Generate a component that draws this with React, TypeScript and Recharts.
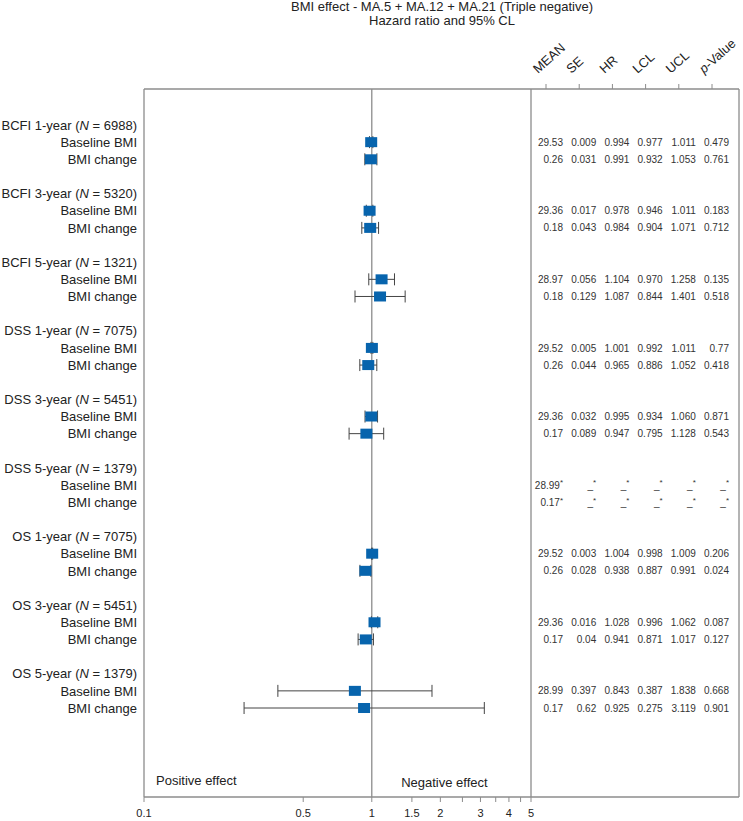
import React from 'react';
import {
  ScatterChart,
  Scatter,
  XAxis,
  YAxis,
  ErrorBar,
  ReferenceLine,
  ReferenceArea,
} from 'recharts';

const groups = ['BCFI 1-year', 'BCFI 3-year', 'BCFI 5-year', 'DSS 1-year', 'DSS 3-year', 'DSS 5-year', 'OS 1-year', 'OS 3-year', 'OS 5-year'];
const groupN = [6988, 5320, 1321, 7075, 5451, 1379, 7075, 5451, 1379];
const rowNames = ['Baseline BMI', 'BMI change'];

// one entry per row, two rows per group (baseline, change)
const meanVals = ['29.53', '0.26', '29.36', '0.18', '28.97', '0.18', '29.52', '0.26', '29.36', '0.17', '28.99*', '0.17*', '29.52', '0.26', '29.36', '0.17', '28.99', '0.17'];
const seVals = ['0.009', '0.031', '0.017', '0.043', '0.056', '0.129', '0.005', '0.044', '0.032', '0.089', '_*', '_*', '0.003', '0.028', '0.016', '0.04', '0.397', '0.62'];
const hrVals = [0.994, 0.991, 0.978, 0.984, 1.104, 1.087, 1.001, 0.965, 0.995, 0.947, null, null, 1.004, 0.938, 1.028, 0.941, 0.843, 0.925];
const lclVals = [0.977, 0.932, 0.946, 0.904, 0.97, 0.844, 0.992, 0.886, 0.934, 0.795, null, null, 0.998, 0.887, 0.996, 0.871, 0.387, 0.275];
const uclVals = [1.011, 1.053, 1.011, 1.071, 1.258, 1.401, 1.011, 1.052, 1.06, 1.128, null, null, 1.009, 0.991, 1.062, 1.017, 1.838, 3.119];
const pVals = ['0.479', '0.761', '0.183', '0.712', '0.135', '0.518', '0.77', '0.418', '0.871', '0.543', '_*', '_*', '0.206', '0.024', '0.087', '0.127', '0.668', '0.901'];

const columns = ['MEAN', 'SE', 'HR', 'LCL', 'UCL', 'p-Value'];
const xTicks = [0.1, 0.5, 1, 1.5, 2, 2.5, 3, 3.5, 4, 4.5, 5];
const xTickLabels = ['0.1', '0.5', '1', '1.5', '2', '', '3', '', '4', '', '5'];

const FONT = '"Liberation Sans", Arial, Helvetica, sans-serif';
const BOX = '#8c8c8c';
const TEXT = '#222';
const Y_DOMAIN: [number, number] = [-2.1, 39.19];

// row index on the y axis: 4 slots per group (header, baseline, change, gap)
const rowIndex = (i: number) => Math.floor(i / 2) * 4 + 1 + (i % 2);

const points = hrVals
  .map((hr, i) => ({
    x: hr,
    y: rowIndex(i),
    err: hr == null ? [0, 0] : [hr - (lclVals[i] as number), (uclVals[i] as number) - hr],
  }))
  .filter((d) => d.x != null);

const fmt = (v: number | null) => (v == null ? '_*' : v.toFixed(3));
const tableCols = [meanVals, seVals, hrVals.map(fmt), lclVals.map(fmt), uclVals.map(fmt), pVals];
const cells = tableCols.flatMap((col, c) => col.map((txt, i) => ({ x: c + 1, y: rowIndex(i), txt })));

const yLabels: Record<number, { group?: number; name?: string }> = {};
groups.forEach((_, g) => {
  yLabels[g * 4] = { group: g };
  yLabels[g * 4 + 1] = { name: rowNames[0] };
  yLabels[g * 4 + 2] = { name: rowNames[1] };
});
const yTicks = Object.keys(yLabels).map(Number);

const YTick = (props: any) => {
  const { x, y, payload } = props;
  const lab = yLabels[payload.value];
  if (!lab) return null;
  return (
    <text x={x} y={y} dy="0.36em" textAnchor="end" fontSize={13} fontFamily={FONT} fill={TEXT}>
      {lab.group != null ? (
        <>
          {groups[lab.group]} (<tspan fontStyle="italic">N</tspan> = {groupN[lab.group]})
        </>
      ) : (
        lab.name
      )}
    </text>
  );
};

const XTick = (props: any) => {
  const { x, y, payload, index } = props;
  return (
    <text x={x} y={y + 13} textAnchor="middle" fontSize={11} fontFamily={FONT} fill={TEXT}>
      {xTickLabels[index] ?? payload.value}
    </text>
  );
};

const HeaderTick = (props: any) => {
  const { x, y, payload } = props;
  const name = columns[payload.value - 1];
  return (
    <text
      transform={`translate(${x - 8},${y - 8}) rotate(-42)`}
      fontSize={13}
      fontFamily={FONT}
      fill={TEXT}
    >
      {name === 'p-Value' ? (
        <>
          <tspan fontStyle="italic">p</tspan>-Value
        </>
      ) : (
        name
      )}
    </text>
  );
};

const Square = (props: any) => {
  const { cx, cy } = props;
  return <rect x={cx - 6} y={cy - 5} width={12} height={10} fill="#0764ad" />;
};

const Cell = (props: any) => {
  const { cx, cy, payload } = props;
  const txt: string = payload.txt;
  const star = txt.endsWith('*');
  const base = star ? txt.slice(0, -1) : txt;
  return (
    <text x={cx + 17} y={cy} dy="0.36em" textAnchor="end" fontSize={10} fontFamily={FONT} fill="#333">
      {base}
      {star && (
        <tspan fontSize={8} dy="-0.4em">
          *
        </tspan>
      )}
    </text>
  );
};

const W = 743;
const H = 821;

export default function App() {
  return (
    <div style={{ position: 'absolute', left: 0, top: 0, width: W, height: H }}>
      <div
        style={{
          position: 'absolute',
          left: 242,
          top: 0,
          width: 400,
          textAlign: 'center',
          fontFamily: FONT,
          fontSize: 13,
          lineHeight: '14px',
          color: TEXT,
        }}
      >
        BMI effect - MA.5 + MA.12 + MA.21 (Triple negative)
        <br />
        Hazard ratio and 95% CL
      </div>

      <div style={{ position: 'absolute', left: 0, top: 0 }}>
        <ScatterChart width={W} height={H} margin={{ top: 89, right: 212, bottom: 0, left: 0 }}>
          <XAxis
            type="number"
            dataKey="x"
            scale="log"
            domain={[0.1, 5]}
            allowDataOverflow
            ticks={xTicks}
            interval={0}
            height={24}
            tickSize={5}
            tickMargin={2}
            axisLine={{ stroke: BOX, strokeWidth: 1.3 }}
            tickLine={{ stroke: BOX }}
            tick={<XTick />}
          />
          <YAxis
            type="number"
            dataKey="y"
            domain={Y_DOMAIN}
            allowDataOverflow
            reversed
            ticks={yTicks}
            interval={0}
            width={144}
            tickSize={0}
            tickMargin={7}
            tickLine={false}
            axisLine={{ stroke: BOX, strokeWidth: 1.3 }}
            tick={<YTick />}
          />
          <ReferenceLine y={Y_DOMAIN[0]} stroke={BOX} strokeWidth={1.3} />
          <ReferenceLine x={5} stroke={BOX} strokeWidth={1.3} />
          <ReferenceLine x={1} stroke={BOX} strokeWidth={1.3} />
          <ReferenceArea
            x1={0.1}
            x2={1}
            fillOpacity={0}
            label={{ value: 'Positive effect', position: 'insideBottomLeft', offset: 12, fontSize: 13, fontFamily: FONT, fill: TEXT }}
          />
          <ReferenceArea
            x1={1}
            x2={5}
            fillOpacity={0}
            label={{ value: 'Negative effect', position: 'insideBottom', offset: 10, dx: -7, fontSize: 13, fontFamily: FONT, fill: TEXT }}
          />
          <Scatter data={points} shape={<Square />} isAnimationActive={false}>
            <ErrorBar dataKey="err" direction="x" width={6} stroke="#444" strokeWidth={1} isAnimationActive={false} />
          </Scatter>
        </ScatterChart>
      </div>

      <div style={{ position: 'absolute', left: 0, top: 0 }}>
        <ScatterChart width={W} height={H} margin={{ top: 0, right: 4, bottom: 24, left: 531 }}>
          <XAxis
            type="number"
            dataKey="x"
            orientation="top"
            domain={[0.548, 6.813]}
            allowDataOverflow
            ticks={[1, 2, 3, 4, 5, 6]}
            interval={0}
            height={89}
            tickSize={5}
            tickMargin={2}
            axisLine={{ stroke: BOX, strokeWidth: 1.3 }}
            tickLine={{ stroke: BOX }}
            tick={<HeaderTick />}
          />
          <YAxis type="number" dataKey="y" domain={Y_DOMAIN} allowDataOverflow reversed hide />
          <ReferenceLine x={6.813} stroke={BOX} strokeWidth={1.3} />
          <ReferenceLine y={Y_DOMAIN[1]} stroke={BOX} strokeWidth={1.3} />
          <Scatter data={cells} shape={<Cell />} isAnimationActive={false} />
        </ScatterChart>
      </div>
    </div>
  );
}
